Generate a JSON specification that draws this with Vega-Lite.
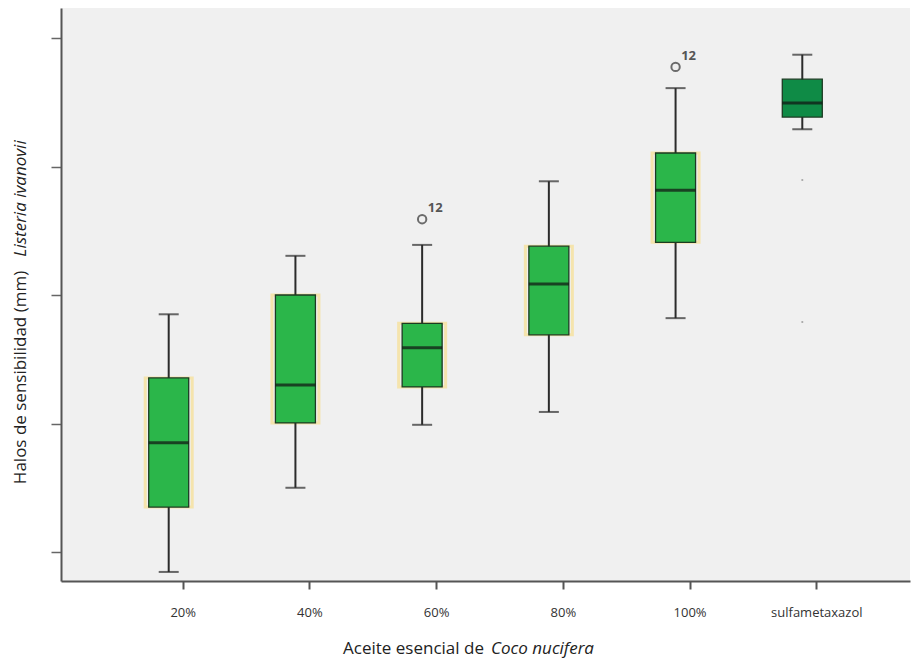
{
  "$schema": "https://vega.github.io/schema/vega-lite/v6.json",
  "width": 849,
  "height": 573,
  "autosize": "none",
  "padding": {"left": 61, "top": 8, "right": 5, "bottom": 83},
  "background": "white",
  "config": {"view": {"fill": "#f0f0f0", "stroke": null}, "font": "Open Sans"},
  "datasets": {
    "boxes": [
      {"grupo": "20%", "tipo": "aceite", "lower": 9.69, "q1": 10.70, "median": 11.70, "q3": 12.71, "upper": 13.70},
      {"grupo": "40%", "tipo": "aceite", "lower": 11.00, "q1": 12.01, "median": 12.60, "q3": 14.00, "upper": 14.61},
      {"grupo": "60%", "tipo": "aceite", "lower": 11.98, "q1": 12.57, "median": 13.18, "q3": 13.56, "upper": 14.78},
      {"grupo": "80%", "tipo": "aceite", "lower": 12.18, "q1": 13.38, "median": 14.17, "q3": 14.76, "upper": 15.77},
      {"grupo": "100%", "tipo": "aceite", "lower": 13.64, "q1": 14.82, "median": 15.63, "q3": 16.21, "upper": 17.22},
      {"grupo": "sulfametaxazol", "tipo": "control", "lower": 16.58, "q1": 16.77, "median": 16.99, "q3": 17.36, "upper": 17.74}
    ],
    "outliers": [
      {"grupo": "60%", "valor": 15.18, "caso": "12"},
      {"grupo": "100%", "valor": 17.55, "caso": "12"}
    ],
    "dots": [
      {"grupo": "sulfametaxazol", "valor": 15.79},
      {"grupo": "sulfametaxazol", "valor": 13.58}
    ]
  },
  "layer": [
    {
      "data": {"name": "boxes"},
      "transform": [{"filter": "datum.tipo === 'aceite'"}],
      "mark": {"type": "bar", "width": 47, "fill": "transparent", "stroke": "#f6e3a6", "strokeWidth": 3, "opacity": 0.9},
      "encoding": {
        "x": {
          "field": "grupo", "type": "nominal",
          "sort": ["20%", "40%", "60%", "80%", "100%", "sulfametaxazol"],
          "scale": {"type": "point", "padding": 0.85},
          "axis": {
            "orient": "bottom", "title": "Aceite esencial de", "titleX": 352, "titleY": 67,
            "titleAlign": "center", "titleBaseline": "middle", "titleFontSize": 17, "titleFontWeight": "normal", "titleColor": "#222",
            "labelAngle": 0, "labelFontSize": 13, "labelColor": "#333", "labelPadding": 17, "tickOffset": 14,
            "domainColor": "#555", "domainWidth": 2, "tickColor": "#555", "tickWidth": 2, "tickSize": 8, "grid": false
          }
        },
        "y": {
          "field": "q1", "type": "quantitative",
          "scale": {"domain": [9.549, 18.467], "nice": false, "zero": false},
          "axis": {
            "orient": "left", "title": "Halos de sensibilidad (mm)", "titleX": -41, "titleY": 369,
            "titleAngle": -90, "titleAlign": "center", "titleBaseline": "middle", "titleFontSize": 17, "titleFontWeight": "normal", "titleColor": "#222",
            "values": [10, 12, 14, 16, 18], "labels": false, "tickSize": 10, "tickColor": "#666", "tickWidth": 1.5,
            "domainColor": "#555", "domainWidth": 2, "grid": false
          }
        },
        "y2": {"field": "q3"}
      }
    },
    {
      "data": {"name": "boxes"},
      "mark": {"type": "rule", "color": "#2b2b2b", "strokeWidth": 2},
      "encoding": {
        "x": {"field": "grupo", "type": "nominal", "sort": ["20%", "40%", "60%", "80%", "100%", "sulfametaxazol"], "axis": null},
        "y": {"field": "lower", "type": "quantitative", "axis": null},
        "y2": {"field": "upper"}
      }
    },
    {
      "data": {"name": "boxes"},
      "mark": {"type": "tick", "color": "#2b2b2b", "size": 20, "thickness": 2},
      "encoding": {
        "x": {"field": "grupo", "type": "nominal", "sort": ["20%", "40%", "60%", "80%", "100%", "sulfametaxazol"], "axis": null},
        "y": {"field": "lower", "type": "quantitative", "axis": null}
      }
    },
    {
      "data": {"name": "boxes"},
      "mark": {"type": "tick", "color": "#2b2b2b", "size": 20, "thickness": 2},
      "encoding": {
        "x": {"field": "grupo", "type": "nominal", "sort": ["20%", "40%", "60%", "80%", "100%", "sulfametaxazol"], "axis": null},
        "y": {"field": "upper", "type": "quantitative", "axis": null}
      }
    },
    {
      "data": {"name": "boxes"},
      "mark": {"type": "bar", "width": 40, "stroke": "#1d3a22", "strokeWidth": 1.3},
      "encoding": {
        "x": {"field": "grupo", "type": "nominal", "sort": ["20%", "40%", "60%", "80%", "100%", "sulfametaxazol"], "axis": null},
        "y": {"field": "q1", "type": "quantitative", "axis": null},
        "y2": {"field": "q3"},
        "color": {"field": "tipo", "type": "nominal", "scale": {"domain": ["aceite", "control"], "range": ["#2bb64a", "#0f8b46"]}, "legend": null}
      }
    },
    {
      "data": {"name": "boxes"},
      "mark": {"type": "tick", "color": "#111", "size": 40, "thickness": 3},
      "encoding": {
        "x": {"field": "grupo", "type": "nominal", "sort": ["20%", "40%", "60%", "80%", "100%", "sulfametaxazol"], "axis": null},
        "y": {"field": "median", "type": "quantitative", "axis": null}
      }
    },
    {
      "data": {"name": "dots"},
      "mark": {"type": "point", "filled": true, "size": 5, "color": "#888"},
      "encoding": {
        "x": {"field": "grupo", "type": "nominal", "sort": ["20%", "40%", "60%", "80%", "100%", "sulfametaxazol"], "axis": null},
        "y": {"field": "valor", "type": "quantitative", "axis": null}
      }
    },
    {
      "data": {"name": "outliers"},
      "mark": {"type": "point", "shape": "circle", "filled": false, "size": 70, "stroke": "#333", "strokeWidth": 2},
      "encoding": {
        "x": {"field": "grupo", "type": "nominal", "sort": ["20%", "40%", "60%", "80%", "100%", "sulfametaxazol"], "axis": null},
        "y": {"field": "valor", "type": "quantitative", "axis": null}
      }
    },
    {
      "data": {"name": "outliers"},
      "mark": {"type": "text", "dx": 13, "dy": -11, "fontSize": 13, "fontWeight": "bold", "color": "#555", "font": "Open Sans"},
      "encoding": {
        "x": {
          "field": "grupo", "type": "nominal", "sort": ["20%", "40%", "60%", "80%", "100%", "sulfametaxazol"],
          "axis": {
            "orient": "top", "title": "Coco nucifera", "titleX": 481, "titleY": 640, "titleAlign": "center", "titleBaseline": "middle",
            "titleFontSize": 17, "titleFontWeight": "normal", "titleFontStyle": "italic", "titleColor": "#222",
            "labels": false, "ticks": false, "domain": false, "grid": false
          }
        },
        "y": {
          "field": "valor", "type": "quantitative",
          "axis": {
            "orient": "right", "title": "Listeria ivanovii", "titleX": -890, "titleY": 190, "titleAngle": -90, "titleAlign": "center", "titleBaseline": "middle",
            "titleFontSize": 17, "titleFontWeight": "normal", "titleFontStyle": "italic", "titleColor": "#222",
            "labels": false, "ticks": false, "domain": false, "grid": false
          }
        },
        "text": {"field": "caso"}
      }
    }
  ],
  "resolve": {"axis": {"x": "independent", "y": "independent"}}
}
